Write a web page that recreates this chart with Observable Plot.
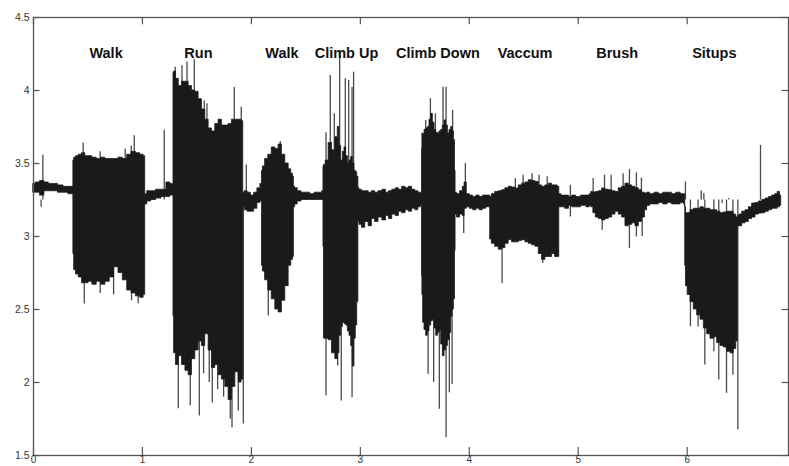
<!DOCTYPE html>
<html><head><meta charset="utf-8">
<script src="https://cdn.jsdelivr.net/npm/d3@7"></script>
<script src="https://cdn.jsdelivr.net/npm/@observablehq/plot@0.6"></script>
<style>body{margin:0;background:#fff;}</style>
</head><body><div id="chart"></div>
<script>
// Signal envelope (time, lower, upper), segment by segment
const t = [
  0.000, 0.040, 0.080, 0.120, 0.160, 0.200, 0.250, 0.300, 0.340, 0.365,
  0.367, 0.380, 0.400, 0.430, 0.460, 0.490, 0.520, 0.560, 0.600, 0.640, 0.680, 0.720, 0.760, 0.800, 0.840, 0.880, 0.920, 0.960, 1.000, 1.022,
  1.028, 1.060, 1.100, 1.150, 1.200, 1.240, 1.270, 1.284,
  1.286, 1.295, 1.320, 1.347, 1.380, 1.409, 1.439, 1.470, 1.500, 1.531, 1.561, 1.592, 1.623, 1.653, 1.684, 1.714, 1.745, 1.776, 1.806, 1.837, 1.868, 1.898, 1.922,
  1.928, 1.950, 1.980, 2.010, 2.040, 2.070, 2.095,
  2.100, 2.112, 2.140, 2.170, 2.204, 2.235, 2.265, 2.295, 2.327, 2.357, 2.375, 2.388,
  2.392, 2.410, 2.440, 2.480, 2.520, 2.560, 2.600, 2.640, 2.660,
  2.663, 2.670, 2.694, 2.724, 2.755, 2.786, 2.800, 2.816, 2.832, 2.847, 2.862, 2.878, 2.893, 2.908, 2.924, 2.938, 2.954, 2.963, 2.979,
  2.985, 3.000, 3.030, 3.060, 3.092, 3.120, 3.150, 3.184, 3.220, 3.250, 3.276, 3.310, 3.340, 3.367, 3.400, 3.430, 3.459, 3.490, 3.520, 3.545, 3.565,
  3.567, 3.572, 3.581, 3.597, 3.612, 3.627, 3.643, 3.658, 3.673, 3.689, 3.704, 3.719, 3.734, 3.750, 3.765, 3.780, 3.796, 3.811, 3.826, 3.842, 3.851, 3.866, 3.872,
  3.876, 3.900, 3.930, 3.950, 3.964, 3.990, 4.020, 4.050, 4.080, 4.110, 4.140, 4.170, 4.190,
  4.194, 4.220, 4.255, 4.286, 4.316, 4.346, 4.377, 4.408, 4.439, 4.470, 4.500, 4.530, 4.561, 4.592, 4.623, 4.653, 4.683, 4.714, 4.745, 4.775, 4.800, 4.822,
  4.830, 4.860, 4.900, 4.930, 4.960, 5.000, 5.050, 5.100,
  5.112, 5.128, 5.150, 5.173, 5.204, 5.234, 5.265, 5.296, 5.327, 5.357, 5.387, 5.418, 5.449, 5.480, 5.510, 5.541, 5.571, 5.600, 5.625,
  5.640, 5.680, 5.720, 5.760, 5.800, 5.840, 5.880, 5.920, 5.960, 5.980,
  5.984, 5.994, 6.015, 6.046, 6.076, 6.107, 6.138, 6.168, 6.199, 6.229, 6.260, 6.290, 6.321, 6.352, 6.382, 6.413, 6.440, 6.460,
  6.468, 6.490, 6.520, 6.551, 6.581, 6.612, 6.643, 6.673, 6.704, 6.734, 6.765, 6.795, 6.820, 6.841, 6.863
];
const lo = [
  3.30, 3.30, 3.28, 3.31, 3.31, 3.31, 3.30, 3.30, 3.29, 3.29,
  2.88, 2.77, 2.74, 2.72, 2.68, 2.68, 2.69, 2.67, 2.69, 2.67, 2.69, 2.72, 2.79, 2.75, 2.70, 2.63, 2.61, 2.59, 2.58, 2.60,
  3.22, 3.24, 3.25, 3.26, 3.27, 3.27, 3.28, 3.28,
  2.45, 2.20, 2.12, 2.18, 2.12, 2.08, 2.05, 2.16, 2.22, 2.28, 2.25, 2.33, 2.22, 2.10, 2.12, 2.05, 2.02, 1.97, 1.88, 1.97, 2.07, 2.00, 2.02,
  3.20, 3.18, 3.17, 3.17, 3.19, 3.23, 3.24,
  2.80, 2.76, 2.70, 2.63, 2.57, 2.50, 2.48, 2.56, 2.66, 2.80, 2.84, 2.86,
  3.20, 3.22, 3.24, 3.25, 3.25, 3.25, 3.25, 3.25, 3.25,
  2.93, 2.30, 2.30, 2.29, 2.20, 2.16, 2.20, 2.32, 2.38, 2.41, 2.40, 2.39, 2.35, 2.32, 2.25, 2.11, 2.30, 2.39, 2.55,
  3.10, 3.08, 3.06, 3.10, 3.07, 3.12, 3.10, 3.13, 3.11, 3.14, 3.12, 3.15, 3.14, 3.17, 3.16, 3.18, 3.17, 3.19, 3.18, 3.20, 3.21,
  2.73, 2.60, 2.41, 2.36, 2.32, 2.35, 2.39, 2.42, 2.43, 2.37, 2.32, 2.34, 2.36, 2.26, 2.18, 2.22, 2.25, 2.29, 2.34, 2.45, 2.50, 2.57, 2.90,
  3.15, 3.13, 3.15, 3.14, 3.19, 3.20, 3.19, 3.18, 3.19, 3.18, 3.19, 3.20, 3.20,
  2.98, 2.95, 2.93, 2.91, 2.92, 2.95, 2.975, 2.96, 2.96, 2.97, 2.975, 2.96, 2.95, 2.94, 2.93, 2.88, 2.84, 2.86, 2.86, 2.88, 2.86, 2.86,
  3.20, 3.20, 3.19, 3.21, 3.20, 3.20, 3.21, 3.20,
  3.21, 3.20, 3.16, 3.13, 3.12, 3.11, 3.12, 3.13, 3.15, 3.17, 3.15, 3.13, 3.07, 3.08, 3.09, 3.07, 3.10, 3.13, 3.18,
  3.21, 3.22, 3.22, 3.23, 3.22, 3.23, 3.22, 3.22, 3.23, 3.22,
  2.80, 2.66, 2.60, 2.55, 2.50, 2.46, 2.43, 2.37, 2.33, 2.30, 2.31, 2.27, 2.25, 2.24, 2.21, 2.20, 2.23, 2.28,
  3.07, 3.07, 3.09, 3.10, 3.12, 3.13, 3.15, 3.157, 3.16, 3.17, 3.18, 3.19, 3.19, 3.20, 3.21
];
const hi = [
  3.36, 3.37, 3.38, 3.37, 3.36, 3.36, 3.35, 3.34, 3.34, 3.34,
  3.52, 3.54, 3.55, 3.56, 3.57, 3.55, 3.55, 3.54, 3.53, 3.54, 3.53, 3.53, 3.53, 3.54, 3.53, 3.56, 3.58, 3.57, 3.56, 3.55,
  3.29, 3.31, 3.31, 3.32, 3.32, 3.37, 3.36, 3.35,
  4.12, 4.13, 4.08, 4.03, 4.06, 4.06, 4.03, 4.00, 3.99, 3.94, 3.87, 3.80, 3.74, 3.72, 3.77, 3.80, 3.76, 3.76, 3.77, 3.80, 3.80, 3.80, 3.79,
  3.30, 3.31, 3.30, 3.28, 3.30, 3.33, 3.36,
  3.45, 3.48, 3.53, 3.56, 3.61, 3.60, 3.63, 3.56, 3.50, 3.46, 3.43, 3.41,
  3.34, 3.33, 3.31, 3.30, 3.30, 3.29, 3.30, 3.30, 3.31,
  3.48, 3.49, 3.52, 3.64, 3.59, 3.68, 3.75, 3.62, 3.52, 3.58, 3.61, 3.55, 3.50, 3.52, 3.545, 3.50, 3.45, 3.44, 3.41,
  3.33, 3.32, 3.31, 3.31, 3.30, 3.31, 3.30, 3.31, 3.32, 3.30, 3.31, 3.32, 3.33, 3.32, 3.34, 3.33, 3.34, 3.32, 3.31, 3.30, 3.30,
  3.60, 3.705, 3.70, 3.73, 3.74, 3.75, 3.80, 3.84, 3.78, 3.73, 3.71, 3.705, 3.72, 3.73, 3.76, 3.795, 3.76, 3.705, 3.73, 3.75, 3.72, 3.66, 3.45,
  3.30, 3.29, 3.31, 3.34, 3.37, 3.29, 3.28, 3.27, 3.28, 3.27, 3.28, 3.28, 3.28,
  3.27, 3.29, 3.305, 3.31, 3.317, 3.33, 3.34, 3.335, 3.328, 3.35, 3.362, 3.37, 3.385, 3.38, 3.373, 3.35, 3.34, 3.35, 3.362, 3.35, 3.35, 3.34,
  3.29, 3.28, 3.28, 3.27, 3.28, 3.27, 3.28, 3.28,
  3.29, 3.305, 3.30, 3.305, 3.31, 3.328, 3.32, 3.317, 3.31, 3.305, 3.33, 3.34, 3.362, 3.35, 3.34, 3.33, 3.317, 3.30, 3.294,
  3.30, 3.29, 3.30, 3.29, 3.30, 3.30, 3.29, 3.30, 3.29, 3.29,
  3.20, 3.16, 3.16, 3.18, 3.19, 3.19, 3.20, 3.19, 3.19, 3.18, 3.18, 3.17, 3.16, 3.165, 3.17, 3.17, 3.15, 3.13,
  3.14, 3.15, 3.17, 3.18, 3.20, 3.226, 3.23, 3.24, 3.25, 3.26, 3.27, 3.28, 3.29, 3.305, 3.28
];
// Isolated spikes (time, tip value)
const spikeT = [0.086, 0.456, 0.612, 0.842, 0.897, 0.925, 1.200, 1.301, 1.363, 1.409, 1.476, 1.567, 1.592, 1.843, 1.907, 1.953, 2.265, 2.685, 2.724, 2.761, 2.810, 2.862, 2.893, 2.924, 2.938, 3.600, 3.643, 3.689, 3.759, 3.787, 3.847, 3.964, 4.423, 4.494, 4.577, 4.640, 4.715, 4.928, 5.137, 5.241, 5.302, 5.412, 5.470, 5.534, 5.580, 5.984, 6.076, 6.129, 6.153, 6.321, 6.382, 6.673,
  0.070, 0.466, 0.612, 0.735, 0.900, 0.961, 1.329, 1.439, 1.522, 1.561, 1.613, 1.641, 1.690, 1.745, 1.806, 1.822, 1.880, 1.926, 2.155, 2.685, 2.792, 2.825, 2.924, 3.622, 3.673, 3.725, 3.787, 3.817, 3.842, 3.949, 4.301, 4.674, 4.928, 5.220, 5.470, 5.534, 5.587, 6.030, 6.100, 6.162, 6.245, 6.290, 6.361, 6.420, 6.465];
const spikeY = [3.556, 3.64, 3.58, 3.60, 3.62, 3.69, 3.727, 4.16, 4.17, 4.195, 4.21, 3.93, 3.91, 4.02, 3.886, 3.49, 3.65, 3.71, 4.103, 3.84, 4.274, 4.08, 4.069, 4.02, 4.126, 3.795, 3.944, 3.84, 4.023, 4.023, 3.864, 3.50, 3.397, 3.42, 3.43, 3.42, 3.41, 3.35, 3.397, 3.42, 3.42, 3.43, 3.458, 3.436, 3.40, 3.373, 3.25, 3.312, 3.294, 3.226, 3.26, 3.624,
  3.20, 2.537, 2.61, 2.60, 2.56, 2.54, 1.82, 1.84, 1.77, 2.06, 2.00, 1.86, 1.95, 1.90, 1.75, 1.69, 1.805, 1.716, 2.455, 1.908, 2.113, 1.873, 1.896, 2.056, 2.0, 1.817, 1.622, 1.93, 1.987, 3.02, 2.678, 2.815, 3.134, 3.043, 2.918, 2.997, 3.00, 2.382, 2.38, 2.12, 2.21, 2.017, 1.926, 2.05, 1.675];
const activities = ["Walk", "Run", "Walk", "Climb Up", "Climb Down", "Vaccum", "Brush", "Situps"];
const activityT = [0.666, 1.514, 2.281, 2.873, 3.712, 4.512, 5.357, 6.249];
const xTicks = [0, 1, 2, 3, 4, 5, 6];
const yTicks = [1.5, 2, 2.5, 3, 3.5, 4, 4.5];
const yTickLabels = ["1.5", "2", "2.5", "3", "3.5", "4", "4.5"];

const env = t.map((x, i) => ({t: x, lo: lo[i], hi: hi[i]}));
const spikes = spikeT.map((x, i) => ({t: x, y: spikeY[i]}));
const labels = activities.map((a, i) => ({name: a, t: activityT[i]}));

const X0 = 0, X1 = 6.93, Y0 = 1.5, Y1 = 4.5;
const axisCol = "#555";

const chart = Plot.plot({
  width: 789,
  height: 466,
  marginLeft: 33,
  marginRight: 1,
  marginTop: 17,
  marginBottom: 11,
  style: {fontFamily: "'Liberation Sans', Arial, sans-serif", background: "#fff", overflow: "visible"},
  x: {domain: [X0, X1], label: null},
  y: {domain: [Y0, Y1], label: null},
  marks: [
    Plot.ruleX(spikes, {x: "t", y1: 3.25, y2: "y", stroke: "#4a4a4a", strokeWidth: 1.3}),
    Plot.areaY(env, {x: "t", y1: "lo", y2: "hi", curve: "step", fill: "#1a1a1a", stroke: "#1a1a1a", strokeWidth: 0.8}),
    Plot.frame({stroke: axisCol, strokeWidth: 1.3}),
    Plot.ruleX(xTicks, {x: d => d, y1: Y0, y2: Y0 + 0.055, stroke: axisCol, strokeWidth: 1.2}),
    Plot.ruleX(xTicks, {x: d => d, y1: Y1, y2: Y1 - 0.05, stroke: axisCol, strokeWidth: 1.2}),
    Plot.ruleY(yTicks, {y: d => d, x1: X0, x2: X0 + 0.06, stroke: axisCol, strokeWidth: 1.2}),
    Plot.ruleY(yTicks, {y: d => d, x1: X1, x2: X1 - 0.06, stroke: axisCol, strokeWidth: 1.2}),
    Plot.axisX(xTicks, {label: null, tickSize: 0, tickPadding: 0, fontSize: 10, fill: "#333", tickFormat: d => String(d)}),
    Plot.axisY(yTicks, {label: null, tickSize: 0, tickPadding: 4, fontSize: 10.5, fill: "#333", tickFormat: (d, i) => yTickLabels[i]}),
    Plot.text(labels, {x: "t", y: 4.256, text: "name", fontWeight: "bold", fontSize: 14.5, fill: "#111"})
  ]
});
document.getElementById("chart").appendChild(chart);
</script>
</body></html>
